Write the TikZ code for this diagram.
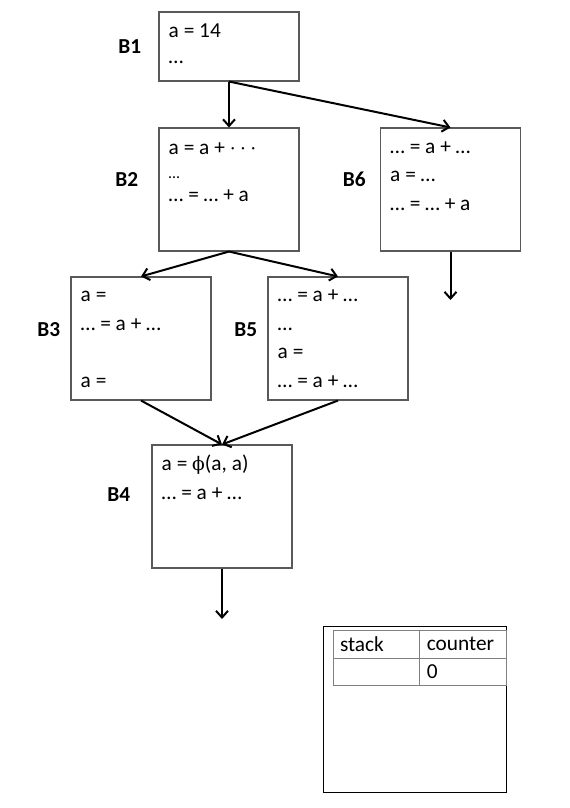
\documentclass[tikz,border=0pt]{standalone}
\usepackage{fontspec}
\setmainfont{Carlito}
\newfontfamily\phifont{DejaVu Serif}
\usetikzlibrary{positioning,arrows.meta}

\begin{document}
\begin{tikzpicture}[x=0.75pt,y=-0.75pt]
    \tikzstyle{block}=[rectangle,draw=black!65,line width=0.8pt,minimum width=105pt,minimum height=92.25pt,inner sep=0pt]
    \tikzstyle{code}=[anchor=base west,align=left,inner sep=0pt,font=\fontsize{16}{21.4}\selectfont]
    \tikzstyle{bname}=[inner sep=0pt,font=\fontsize{16}{19}\selectfont\bfseries]
    \tikzstyle{flow}=[-{Straight Barb[length=5pt,width=9pt]},line width=1.5pt]
    \tikzstyle{cell}=[rectangle,draw=black!50,line width=0.6pt,align=left,inner xsep=5.25pt,inner ysep=0pt,font=\fontsize{16}{19}\selectfont]

    \useasboundingbox (0,0) rectangle (570,808);

    % Draw the basic blocks
    \node[block,minimum height=51.75pt] (B1) at (229,46.5) {};
    \node[block] (B2) at (229,189.5) {};
    \node[block] (B6) at (450.5,189.5) {};
    \node[block] (B3) at (141,338.5) {};
    \node[block] (B5) at (338,338.5) {};
    \node[block] (B4) at (222,506.5) {};

    % Name every block
    \node[bname,left=12.75pt of B1] {B1};
    \node[bname,left=15pt of B2,yshift=7.5pt] {B2};
    \node[bname,left=10.5pt of B6,yshift=7.5pt] {B6};
    \node[bname,left=7.5pt of B3,yshift=7pt] {B3};
    \node[bname,left=7.5pt of B5,yshift=7pt] {B5};
    \node[bname,left=15.75pt of B4,yshift=8.6pt] {B4};

    % The statements in the blocks (placed by the baseline of their last line)
    \node[code] (T1) at ([xshift=7.5pt,yshift=-39pt]B1.north west) {a = 14\\[-1.9pt]…};
    \node[code] (T2) at ([xshift=7.5pt,yshift=-55.5pt]B2.north west)
        {a = a + $\cdots$\\[-3.8pt]{\fontsize{12}{14}\selectfont …}\\[-3.8pt]… = … + a};
    \node[code] (T6) at ([xshift=7.5pt,yshift=-62.25pt]B6.north west) {… = a + …\\a = …\\… = … + a};
    \node[code] (T3) at ([xshift=7.5pt,yshift=-83.25pt]B3.north west) {a =\\… = a + …\\[21.4pt]a =};
    \node[code] (T5) at ([xshift=7.5pt,yshift=-83.25pt]B5.north west) {… = a + …\\…\\a =\\… = a + …};
    \node[code] (T4) at ([xshift=7.5pt,yshift=-41.25pt]B4.north west)
        {a = {\phifont\fontsize{14}{16}\selectfont ϕ}(a, a)\\… = a + …};

    % Connect the blocks
    \foreach \source / \dest in {B1/B2,B1/B6,B2/B3,B2/B5,B3/B4,B5/B4}
        \draw[flow] (\source.south) -- (\dest.north);

    % Edges leaving the graph
    \coordinate (X6) at (450.5,300);
    \coordinate (X4) at (222,619);
    \draw[flow] (B6.south) -- (X6);
    \draw[flow] (B4.south) -- (X4);

    % The stack and its counter
    \node[draw=black,line width=0.6pt,minimum width=137.25pt,minimum height=124.5pt,inner sep=0pt] (SB) at (414.5,709) {};
    \node[cell,text width=54pt,minimum height=21pt] (S-1) at (376,644) {stack};
    \node[cell,text width=54.75pt,minimum height=21pt,right=0pt of S-1] (C-1) {counter};
    \node[cell,text width=54pt,minimum height=20.25pt] (S-2) at (376,671.5) {};
    \node[cell,text width=54.75pt,minimum height=20.25pt,right=0pt of S-2] (C-2) {0};
\end{tikzpicture}
\end{document}
